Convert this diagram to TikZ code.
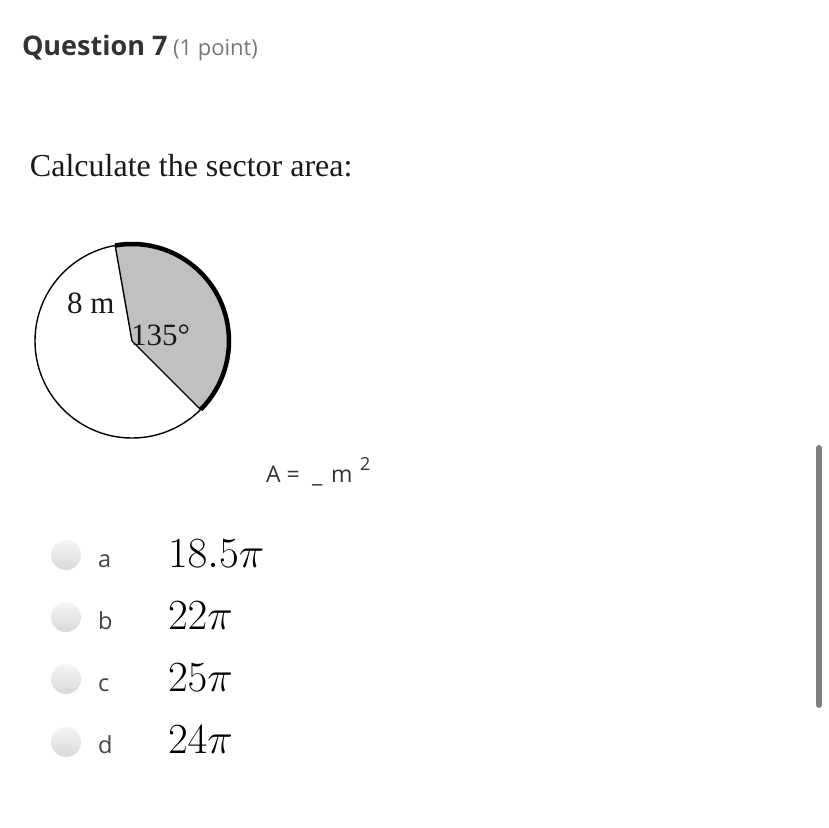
\RequirePackage{fix-cm}
\documentclass[tikz,border=0pt]{standalone}
\usepackage{fontspec}
\setmainfont{Open Sans}
\newfontfamily\timesf{Liberation Serif}
\usetikzlibrary{shadings}
\definecolor{qdark}{HTML}{333333}
\definecolor{qgray}{HTML}{777777}
\definecolor{optgray}{HTML}{444444}
\definecolor{sectfill}{HTML}{C0C0C0}
\definecolor{barcol}{HTML}{808080}
\tikzset{
  txt/.style={anchor=base west, inner sep=0pt, outer sep=0pt},
  radio/.style={circle, minimum size=30pt, inner sep=0pt, top color=white!96!black, bottom color=black!15},
  optletter/.style={txt, font=\fontsize{23.5}{28}\selectfont, text=optgray},
  optval/.style={txt, font=\fontsize{43}{49}\selectfont, text=black},
  serif/.style={txt, font=\timesf\fontsize{31}{36}\selectfont, text=black!90}
}
\begin{document}
\begin{tikzpicture}[x=1pt,y=-1pt]
\useasboundingbox (0,0) rectangle (828,828);
\fill[white] (0,0) rectangle (828,828);
% header
\node[txt, font=\bfseries\fontsize{27}{32}\selectfont, text=qdark] (q) at (22,55) {Question 7};
\node[txt, font=\fontsize{22}{26}\selectfont, text=qgray] (pt) at (173,55) {(1 point)};
\node[txt, font=\timesf\fontsize{32}{38}\selectfont, text=black!90] (calc) at (30,176) {Calculate the sector area:};
% circle
\coordinate (c) at (132,341);
\fill[sectfill] (c) -- ++(-100:97) arc[start angle=-100, end angle=45, radius=97] -- cycle;
\draw[line width=1.4pt] (c) circle[radius=97];
\draw[line width=1.4pt] (c) -- ++(-100:97);
\draw[line width=1.4pt] (c) -- ++(45:97);
\draw[line width=4.5pt] ([shift={(-100:97)}]c) arc[start angle=-100, end angle=45, radius=97];
\node[serif] (rlab) at (67,313) {8 m};
\node[serif] (alab) at (131,345) {135°};
% answer line
\node[txt, font=\fontsize{23}{28}\selectfont, text=qdark] (aeq) at (266,482) {A =};
\node[txt, font=\fontsize{23}{28}\selectfont, text=qdark] (blank) at (312,482) {\_};
\node[txt, font=\fontsize{23}{28}\selectfont, text=qdark] (unit) at (331,482) {m};
\node[txt, font=\fontsize{18}{22}\selectfont, text=qdark] (sq) at (360,470) {2};
% options
\node[radio] (ra) at (66,555) {};
\node[radio] (rb) at (66,617) {};
\node[radio] (rc) at (66,679) {};
\node[radio] (rd) at (66,742) {};
\node[optletter] (la) at (98,567) {a};
\node[optletter] (lb) at (98,629) {b};
\node[optletter] (lc) at (98,691) {c};
\node[optletter] (ld) at (98,753) {d};
\node[optval] (va) at (168,567) {$18.5\pi$};
\node[optval] (vb) at (168,629) {$22\pi$};
\node[optval] (vc) at (168,691) {$25\pi$};
\node[optval] (vd) at (168,753) {$24\pi$};
% scrollbar
\draw[barcol, line width=6pt, line cap=round] (819,448) -- (819,705);
\end{tikzpicture}
\end{document}
